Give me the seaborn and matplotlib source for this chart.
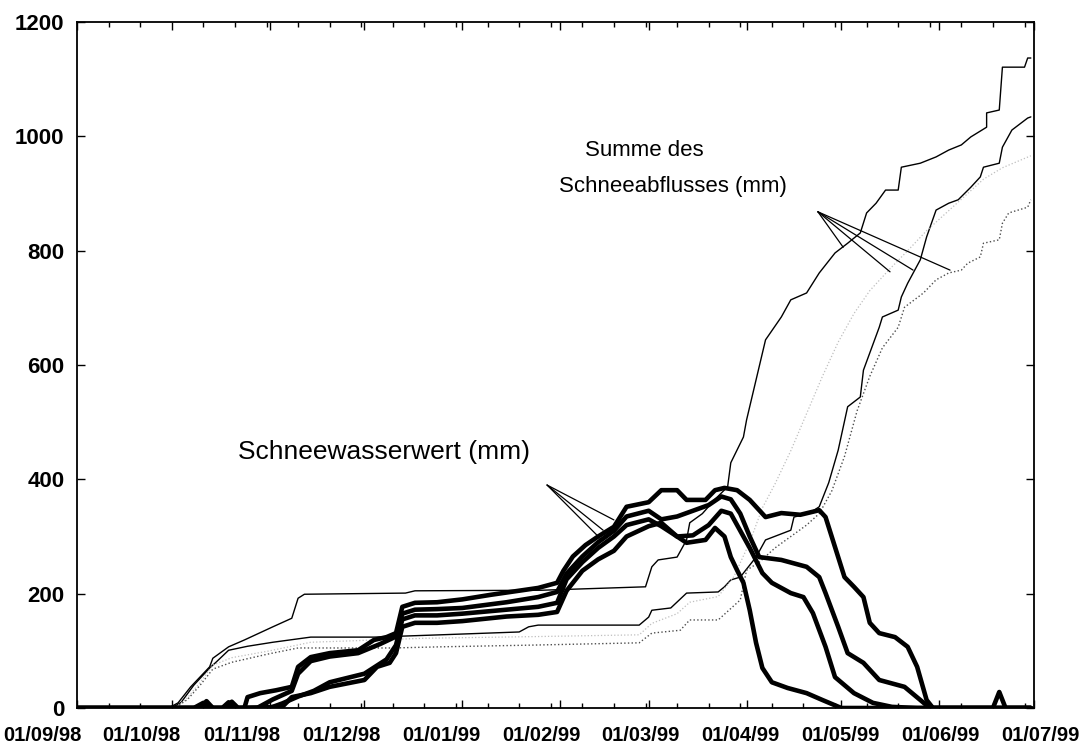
import matplotlib
matplotlib.use("Agg")
import matplotlib.pyplot as plt
import matplotlib.dates as mdates
from matplotlib.ticker import FixedLocator
import pandas as pd
import seaborn as sns

# ---------------- data ----------------
x_labels = ["01/09/98", "01/10/98", "01/11/98", "01/12/98", "01/01/99", "01/02/99",
            "01/03/99", "01/04/99", "01/05/99", "01/06/99", "01/07/99"]
y_ticks = [0, 200, 400, 600, 800, 1000, 1200]

# cumulative snow runoff (thin lines)
A_dates = ["1998-09-01","1998-09-30","1998-10-03","1998-10-07","1998-10-13","1998-10-14","1998-10-19","1998-10-24","1998-11-02","1998-11-08","1998-11-10","1998-11-12","1998-12-14","1998-12-17","1999-01-26","1999-02-28","1999-03-02","1999-03-04","1999-03-10","1999-03-13","1999-03-14","1999-03-18","1999-03-22","1999-03-26","1999-03-27","1999-03-31","1999-04-01","1999-04-04","1999-04-07","1999-04-12","1999-04-15","1999-04-20","1999-04-24","1999-04-29","1999-05-03","1999-05-07","1999-05-09","1999-05-12","1999-05-15","1999-05-19","1999-05-20","1999-05-26","1999-05-31","1999-06-04","1999-06-08","1999-06-11","1999-06-16","1999-06-16","1999-06-20","1999-06-21","1999-06-28","1999-06-29","1999-06-30"]
A_vals = [0,0,9,37,72,87,107,119,142,157,192,199,201,205,206,212,247,259,264,294,324,340,365,387,429,474,504,574,644,684,714,726,761,796,813,831,866,883,906,906,946,953,964,976,985,999,1016,1041,1046,1121,1121,1137,1137]

B_dates = ["1998-09-01","1998-10-01","1998-10-04","1998-10-08","1998-10-13","1998-10-15","1998-10-19","1998-10-25","1998-11-02","1998-11-14","1998-12-04","1998-12-25","1999-01-19","1999-01-22","1999-01-25","1999-02-26","1999-03-01","1999-03-02","1999-03-08","1999-03-13","1999-03-23","1999-03-25","1999-03-27","1999-03-30","1999-04-04","1999-04-07","1999-04-15","1999-04-16","1999-04-21","1999-04-24","1999-04-27","1999-04-30","1999-05-03","1999-05-07","1999-05-08","1999-05-13","1999-05-14","1999-05-19","1999-05-20","1999-05-22","1999-05-26","1999-05-28","1999-05-31","1999-06-04","1999-06-07","1999-06-11","1999-06-14","1999-06-15","1999-06-20","1999-06-21","1999-06-24","1999-06-29","1999-06-30"]
B_vals = [0,0,10,40,70,80,101,108,115,124,124,128,133,142,145,145,159,171,175,201,203,212,224,229,264,294,311,334,341,352,394,451,527,544,591,666,684,696,719,743,784,824,871,883,889,911,929,946,953,981,1011,1032,1034]

C_dates = ["1998-09-01","1998-10-02","1998-10-06","1998-10-10","1998-10-14","1998-10-20","1998-11-01","1998-11-14","1998-12-20","1999-01-25","1999-02-26","1999-03-02","1999-03-10","1999-03-14","1999-03-23","1999-03-28","1999-04-02","1999-04-06","1999-04-10","1999-04-15","1999-04-20","1999-04-25","1999-04-30","1999-05-05","1999-05-10","1999-05-16","1999-05-22","1999-05-28","1999-06-03","1999-06-09","1999-06-15","1999-06-21","1999-06-30"]
C_vals = [0,0,18,45,75,88,100,115,122,125,128,148,165,185,195,230,290,350,392,450,515,580,640,690,730,766,800,835,865,895,925,945,966]

D_dates = ["1998-09-01","1998-10-02","1998-10-06","1998-10-10","1998-10-14","1998-10-20","1998-11-01","1998-11-10","1998-12-10","1998-12-25","1999-01-23","1999-02-26","1999-03-02","1999-03-11","1999-03-14","1999-03-23","1999-03-30","1999-04-01","1999-04-05","1999-04-10","1999-04-15","1999-04-20","1999-04-24","1999-04-28","1999-05-02","1999-05-06","1999-05-10","1999-05-14","1999-05-19","1999-05-21","1999-05-27","1999-05-31","1999-06-04","1999-06-08","1999-06-10","1999-06-14","1999-06-15","1999-06-20","1999-06-21","1999-06-23","1999-06-29","1999-06-30"]
D_vals = [0,0,15,40,68,80,95,105,105,107,110,114,131,136,154,154,189,241,255,280,300,320,340,380,440,520,580,630,666,701,726,749,761,766,778,789,813,819,848,866,876,889]

# snow water equivalent (thick lines)
T1_dates = ["1998-09-01","1998-10-10","1998-10-12","1998-10-14","1998-10-18","1998-10-20","1998-10-22","1998-11-05","1998-11-08","1998-11-14","1998-11-20","1998-12-01","1998-12-05","1998-12-09","1998-12-11","1998-12-13","1998-12-17","1998-12-24","1999-01-01","1999-01-15","1999-01-25","1999-01-31","1999-02-03","1999-02-08","1999-02-13","1999-02-18","1999-02-22","1999-03-01","1999-03-05","1999-03-10","1999-03-13","1999-03-19","1999-03-22","1999-03-25","1999-03-27","1999-03-29","1999-03-31","1999-04-02","1999-04-04","1999-04-06","1999-04-09","1999-04-14","1999-04-20","1999-04-25","1999-05-01","1999-06-30"]
T1_vals = [0,0,8,0,0,11,0,2,19,26,37,49,72,79,96,142,149,149,152,160,163,168,205,240,260,275,300,318,324,300,289,294,315,300,264,241,219,171,114,70,45,35,26,14,0,0]

T2_dates = ["1998-09-01","1998-10-08","1998-10-11","1998-10-14","1998-11-01","1998-11-05","1998-11-10","1998-11-15","1998-11-20","1998-12-01","1998-12-08","1998-12-11","1998-12-13","1998-12-17","1998-12-24","1999-01-01","1999-01-15","1999-01-25","1999-01-31","1999-02-03","1999-02-08","1999-02-13","1999-02-18","1999-02-22","1999-03-01","1999-03-05","1999-03-10","1999-03-15","1999-03-20","1999-03-24","1999-03-27","1999-03-30","1999-04-02","1999-04-06","1999-04-09","1999-04-15","1999-04-19","1999-04-22","1999-04-26","1999-04-29","1999-05-05","1999-05-11","1999-05-17","1999-05-25","1999-06-30"]
T2_vals = [0,0,9,0,0,8,20,30,45,60,85,110,155,162,162,165,172,177,184,225,255,280,300,320,330,318,300,302,320,345,340,310,280,236,219,201,194,166,107,54,26,9,2,0,0]

T3_dates = ["1998-09-01","1998-10-17","1998-10-19","1998-10-21","1998-10-28","1998-11-02","1998-11-08","1998-11-10","1998-11-14","1998-11-20","1998-11-29","1998-12-06","1998-12-11","1998-12-13","1998-12-17","1998-12-24","1999-01-01","1999-01-15","1999-01-25","1999-01-31","1999-02-03","1999-02-08","1999-02-13","1999-02-18","1999-02-22","1999-03-01","1999-03-05","1999-03-10","1999-03-15","1999-03-20","1999-03-24","1999-03-27","1999-03-30","1999-04-02","1999-04-05","1999-04-12","1999-04-20","1999-04-24","1999-04-26","1999-04-30","1999-05-03","1999-05-08","1999-05-13","1999-05-21","1999-05-26","1999-05-29","1999-06-30"]
T3_vals = [0,0,10,0,0,15,30,60,82,90,96,112,125,165,172,173,175,185,194,203,235,265,290,310,335,345,330,335,345,355,370,365,340,300,264,259,247,229,201,142,96,79,49,37,14,0,0]

T4_dates = ["1998-09-01","1998-10-10","1998-10-12","1998-10-14","1998-10-24","1998-10-25","1998-10-29","1998-11-03","1998-11-08","1998-11-10","1998-11-14","1998-11-20","1998-11-29","1998-12-04","1998-12-08","1998-12-11","1998-12-12","1998-12-13","1998-12-17","1998-12-24","1999-01-01","1999-01-10","1999-01-20","1999-01-25","1999-01-31","1999-02-02","1999-02-05","1999-02-09","1999-02-13","1999-02-18","1999-02-22","1999-03-01","1999-03-05","1999-03-10","1999-03-13","1999-03-19","1999-03-22","1999-03-25","1999-03-29","1999-04-02","1999-04-07","1999-04-12","1999-04-18","1999-04-24","1999-04-26","1999-05-02","1999-05-05","1999-05-08","1999-05-10","1999-05-13","1999-05-18","1999-05-22","1999-05-25","1999-05-28","1999-05-30","1999-06-18","1999-06-20","1999-06-22","1999-06-30"]
T4_vals = [0,0,12,0,0,19,26,31,37,72,89,96,101,119,124,131,154,177,184,185,190,198,206,210,219,240,265,285,300,317,352,360,381,381,364,364,381,385,381,364,334,341,338,346,334,229,212,194,149,131,124,107,72,14,0,0,28,0,0]

# annotation texts and leader lines
label_swe = "Schneewasserwert (mm)"
label_sum_1 = "Summe des"
label_sum_2 = "Schneeabflusses (mm)"
swe_apex = ("1999-01-27 20:00", 390)
swe_ends = [("1999-02-13 14:00", 297), ("1999-02-14 14:00", 311), ("1999-02-18", 329)]
sum_apex = ("1999-04-23 14:00", 868)
sum_ends = [("1999-05-01 14:00", 806), ("1999-05-16 10:00", 763), ("1999-05-23 17:00", 766), ("1999-06-04 10:00", 766)]

# ---------------- style ----------------
sns.set_style("ticks")
plt.rcParams['font.family'] = ['Liberation Sans', 'DejaVu Sans']
for k in ["text.color", "axes.labelcolor", "xtick.color", "ytick.color", "axes.edgecolor"]:
    plt.rcParams[k] = "black"

fig = plt.figure(figsize=(10.82, 7.5), dpi=100)
ax = fig.add_axes([77/1082, 42/750, 957/1082, 686/750])

def frame(d, v):
    return pd.DataFrame({"date": pd.to_datetime(d), "value": v})

thin = [(A_dates, A_vals, "black", "-", 1.0),
        (B_dates, B_vals, "black", "-", 1.0),
        (C_dates, C_vals, "0.75", ":", 0.9),
        (D_dates, D_vals, "0.3", ":", 1.0)]
for d, v, c, ls, lw in thin:
    sns.lineplot(data=frame(d, v), x="date", y="value", ax=ax, color=c,
                 linestyle=ls, lw=lw, estimator=None, sort=False)

for d, v in [(T1_dates, T1_vals), (T2_dates, T2_vals), (T3_dates, T3_vals), (T4_dates, T4_vals)]:
    sns.lineplot(data=frame(d, v), x="date", y="value", ax=ax, color="black",
                 lw=3.3, estimator=None, sort=False, solid_joinstyle="round")

# leader lines
for (ex, ey) in swe_ends:
    ax.annotate("", xy=(pd.Timestamp(ex), ey), xytext=(pd.Timestamp(swe_apex[0]), swe_apex[1]),
                arrowprops=dict(arrowstyle="-", lw=0.9, color="black", shrinkA=0, shrinkB=0))
for (ex, ey) in sum_ends:
    ax.annotate("", xy=(pd.Timestamp(ex), ey), xytext=(pd.Timestamp(sum_apex[0]), sum_apex[1]),
                arrowprops=dict(arrowstyle="-", lw=0.9, color="black", shrinkA=0, shrinkB=0))

ax.text(pd.Timestamp("1998-10-22"), 448, label_swe, fontsize=19, ha="left", va="center")
ax.text(pd.Timestamp("1999-02-27 12:00"), 976, label_sum_1, fontsize=16, ha="center", va="center")
ax.text(pd.Timestamp("1999-03-08 17:00"), 913, label_sum_2, fontsize=16, ha="center", va="center")

# axes
ax.set_xlim(pd.Timestamp("1998-09-01"), pd.Timestamp("1999-07-01"))
ax.set_ylim(0, 1200)
ax.set_yticks(y_ticks)
ax.set_yticklabels([str(t) for t in y_ticks], fontweight="bold")
ax.xaxis.set_major_locator(mdates.MonthLocator())
ax.xaxis.set_minor_locator(FixedLocator(mdates.date2num(
    pd.date_range("1998-09-01", "1999-07-01", freq="10D").to_pydatetime())))
ax.set_xlabel("")
ax.set_ylabel("")
for s in ax.spines.values():
    s.set_visible(True)
    s.set_linewidth(1.3)
    s.set_color("black")
ax.tick_params(axis="y", which="major", direction="in", length=6, width=1,
               labelsize=16, pad=9, right=True)
ax.tick_params(axis="x", which="major", direction="in", length=6, width=1,
               top=True, labelbottom=False)
ax.tick_params(axis="x", which="minor", direction="in", length=3.5, width=1, top=True)

# evenly spread date labels along the bottom
lab = fig.add_axes([42/1082, 42/750, (1040-42)/1082, 1e-6])
lab.set_xlim(0, len(x_labels) - 1)
lab.set_xticks(range(len(x_labels)))
lab.set_xticklabels(x_labels, fontsize=14.5, fontweight="bold")
lab.set_yticks([])
lab.tick_params(axis="x", length=0, pad=13)
for s in lab.spines.values():
    s.set_visible(False)
lab.patch.set_visible(False)

fig.savefig("out.png", dpi=100)
